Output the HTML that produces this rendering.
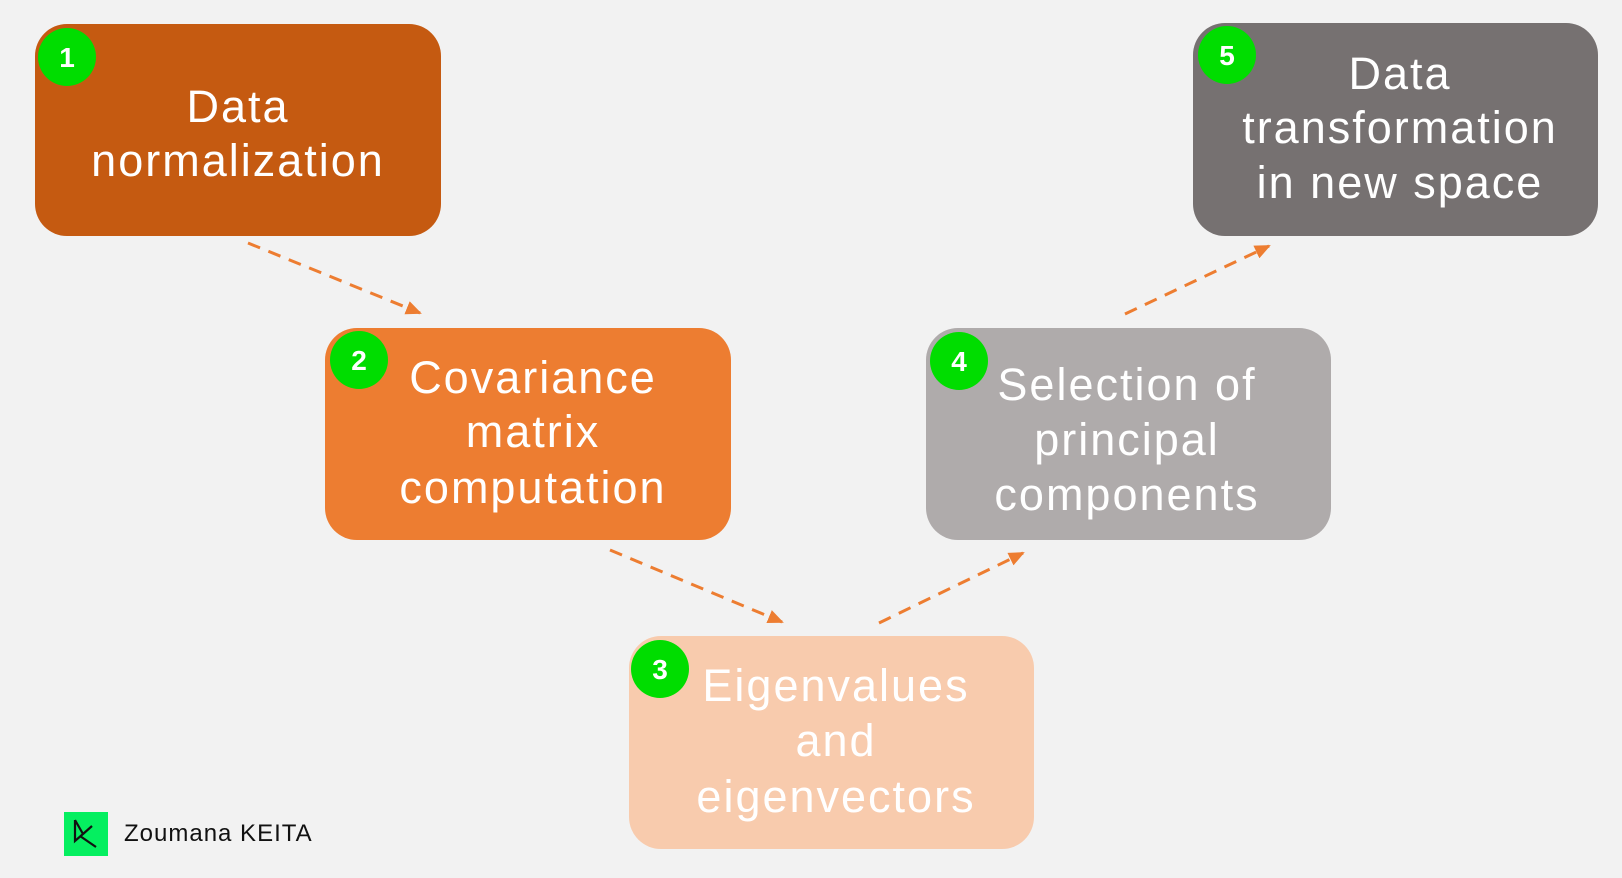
<!DOCTYPE html>
<html><head><meta charset="utf-8"><style>
html,body{margin:0;padding:0;background:#F2F2F2;}
svg{display:block}
text{font-family:"Liberation Sans",sans-serif;}
</style></head><body>
<svg width="1622" height="878" viewBox="0 0 1622 878" xmlns="http://www.w3.org/2000/svg">
<defs>
<marker id="ah" markerWidth="16" markerHeight="14" refX="14" refY="7" orient="auto" markerUnits="userSpaceOnUse">
<path d="M0,0 L16,7 L0,14 z" fill="#ED7D31"/>
</marker>
</defs>
<rect width="1622" height="878" fill="#F2F2F2"/>
<g stroke="#ED7D31" stroke-width="3" stroke-dasharray="13,9" fill="none" marker-end="url(#ah)">
<line x1="248" y1="243" x2="420" y2="313"/>
<line x1="610" y1="550" x2="782" y2="622"/>
<line x1="879" y1="623" x2="1023" y2="553"/>
<line x1="1125" y1="314" x2="1269" y2="246"/>
</g>
<rect x="35" y="24" width="406" height="212" rx="32" fill="#C55A11"/>
<rect x="325" y="328" width="406" height="212" rx="32" fill="#ED7D31"/>
<rect x="629" y="636" width="405" height="213" rx="32" fill="#F8CBAD"/>
<rect x="926" y="328" width="405" height="212" rx="32" fill="#AFABAB"/>
<rect x="1193" y="23" width="405" height="213" rx="32" fill="#767171"/>
<g fill="#fff" font-size="45" text-anchor="middle" letter-spacing="2">
<text x="238" y="122">Data</text>
<text x="238" y="176">normalization</text>
<text x="533" y="393">Covariance</text>
<text x="533" y="447">matrix</text>
<text x="533" y="503">computation</text>
<text x="836" y="701">Eigenvalues</text>
<text x="836" y="756">and</text>
<text x="836" y="812">eigenvectors</text>
<text x="1127" y="400">Selection of</text>
<text x="1127" y="455">principal</text>
<text x="1127" y="510">components</text>
<text x="1400" y="89">Data</text>
<text x="1400" y="143">transformation</text>
<text x="1400" y="198">in new space</text>
</g>
<g fill="#00DD00">
<circle cx="67" cy="57" r="29"/>
<circle cx="359" cy="360" r="29"/>
<circle cx="660" cy="669" r="29"/>
<circle cx="959" cy="361" r="29"/>
<circle cx="1227" cy="55" r="29"/>
</g>
<g fill="#fff" font-size="28" font-weight="bold" text-anchor="middle">
<text x="67" y="67">1</text>
<text x="359" y="370">2</text>
<text x="660" y="679">3</text>
<text x="959" y="371">4</text>
<text x="1227" y="65">5</text>
</g>
<rect x="64" y="812" width="44" height="44" fill="#05EF60"/>
<path d="M75,820 L75,841 L83,834 L75,820 M80,836 L96,847 M83,834 L92,826" stroke="#111" stroke-width="2.2" fill="none"/>
<text x="124" y="841" font-size="24" fill="#111" letter-spacing="1">Zoumana KEITA</text>
</svg>
</body></html>
